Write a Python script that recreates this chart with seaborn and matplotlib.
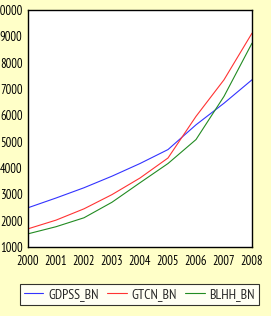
import matplotlib
matplotlib.use("Agg")
import matplotlib.pyplot as plt
import seaborn as sns
import pandas as pd
from matplotlib.lines import Line2D

years = [2000, 2001, 2002, 2003, 2004, 2005, 2006, 2007, 2008]
gdpss_bn = [2490, 2860, 3250, 3690, 4170, 4700, 5640, 6460, 7350]
gtcn_bn = [1690, 2020, 2450, 2990, 3620, 4380, 5960, 7350, 9120]
blhh_bn = [1500, 1770, 2110, 2700, 3440, 4170, 5080, 6720, 8740]
series_names = ["GDPSS_BN", "GTCN_BN", "BLHH_BN"]
colors = ["#3333FF", "#FF3333", "#228B22"]

df = pd.DataFrame({
    "year": years * 3,
    "value": gdpss_bn + gtcn_bn + blhh_bn,
    "series": [series_names[0]] * 9 + [series_names[1]] * 9 + [series_names[2]] * 9,
})

sns.set_style("white")
plt.rcParams["font.family"] = ["PT Sans Narrow", "Liberation Sans", "DejaVu Sans"]

bg = "#FFFFC8"
fig = plt.figure(figsize=(2.71, 3.16), dpi=100, facecolor=bg)
ax = fig.add_axes([28 / 271, 1 - 247 / 316, (252 - 28) / 271, (247 - 10) / 316])
ax.set_facecolor("white")

sns.lineplot(data=df, x="year", y="value", hue="series", palette=colors,
             ax=ax, linewidth=0.8, legend=False)

ax.set_xlim(2000, 2008)
ax.set_ylim(1000, 10000)
ax.set_xticks(years)
ax.set_yticks(range(1000, 10001, 1000))
ax.set_xlabel("")
ax.set_ylabel("")
ax.tick_params(axis="both", direction="out", length=3, width=0.8, labelsize=9,
               colors="black", pad=1)
ax.tick_params(axis="x", pad=3)
for s in ax.spines.values():
    s.set_color("black")
    s.set_linewidth(1.0)

handles = [Line2D([0], [0], color=c, lw=0.8) for c in colors]
leg = fig.legend(handles, series_names, loc="center", bbox_to_anchor=(139.5 / 271, 1 - 294.5 / 316),
                 ncol=3, frameon=True, fancybox=False, fontsize=10, handlelength=1.4,
                 handletextpad=0.35, columnspacing=0.6, borderpad=0.3, borderaxespad=0,
                 edgecolor="black")
leg.get_frame().set_linewidth(0.8)

fig.savefig("out.png", dpi=100, facecolor=bg)
